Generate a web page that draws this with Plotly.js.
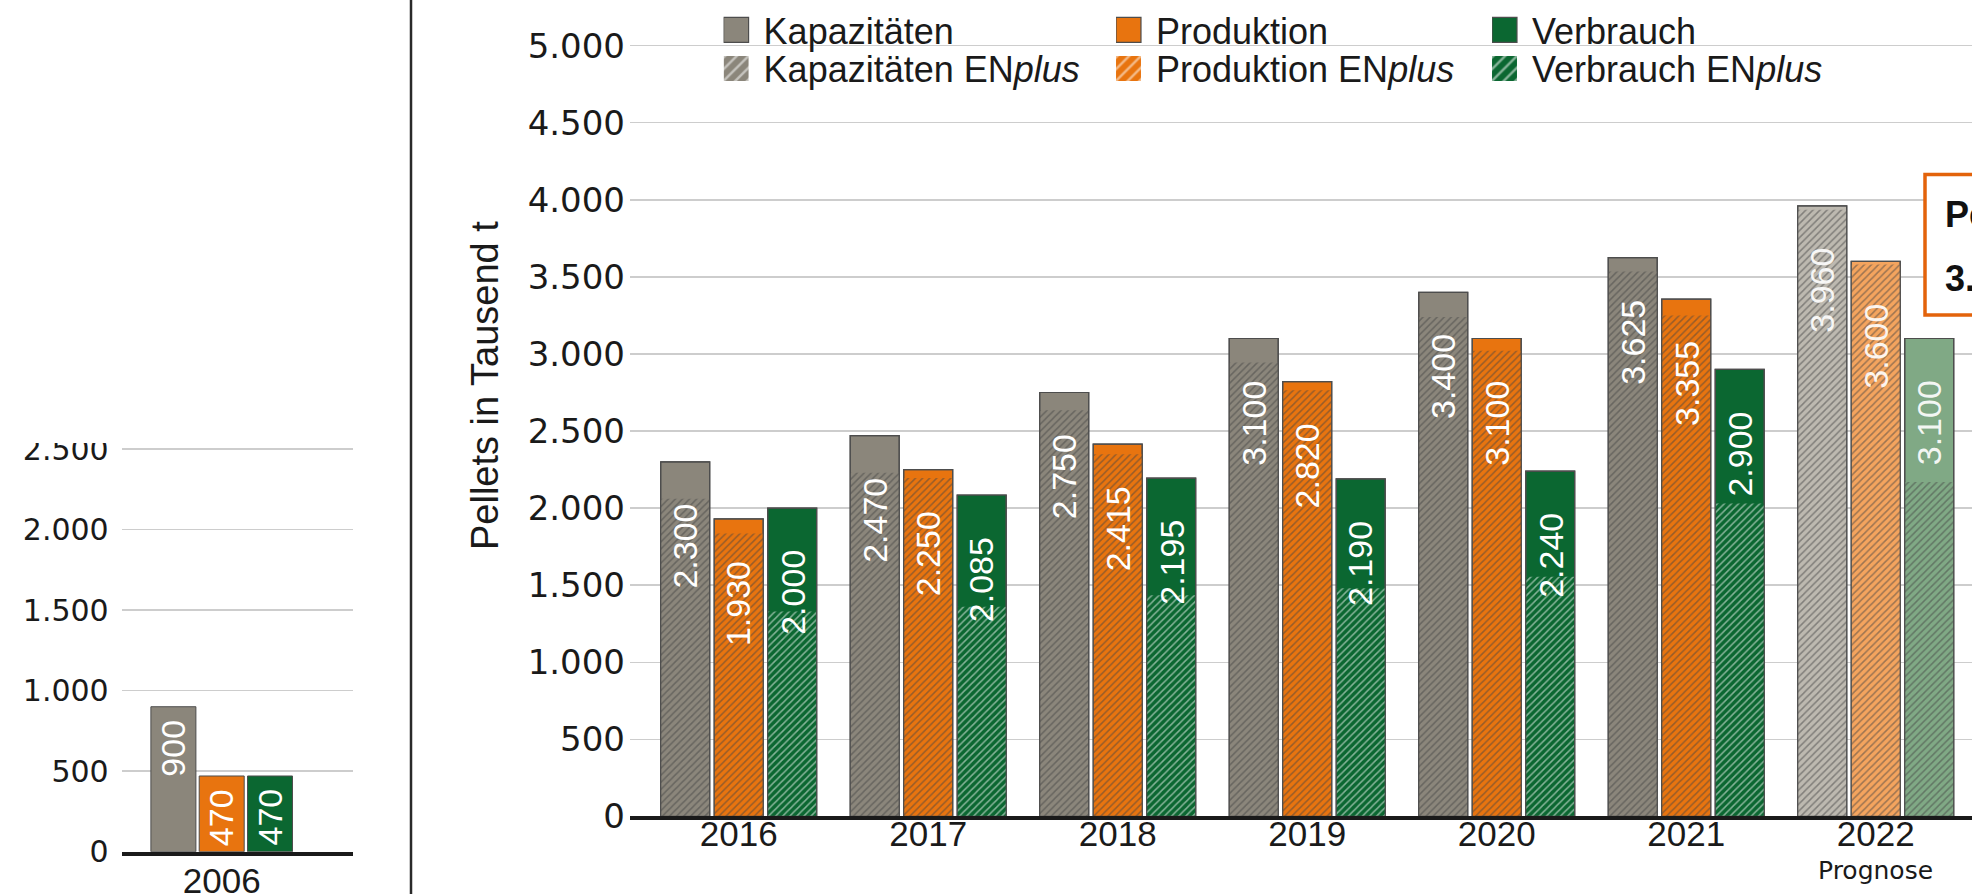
<!DOCTYPE html>
<html><head><meta charset="utf-8">
<script src="https://cdn.plot.ly/plotly-3.0.1.min.js"></script>
<style>html,body{margin:0;padding:0;background:#fff;overflow:hidden}#chart{width:1972px;height:894px}</style>
</head><body><div id="chart"></div>
<script>
// ---------------- DATA ----------------
const categories = ['2016', '2017', '2018', '2019', '2020', '2021', '2022'];
const prognose = [false, false, false, false, false, false, true];
const kapazitaeten = [2300, 2470, 2750, 3100, 3400, 3625, 3960];
const kapazitaetenENplus = [2060, 2230, 2635, 2945, 3240, 3535, 3935];
const produktion = [1930, 2250, 2415, 2820, 3100, 3355, 3600];
const produktionENplus = [1835, 2195, 2350, 2765, 3020, 3250, 3580];
const verbrauch = [2000, 2085, 2195, 2190, 2240, 2900, 3100];
const verbrauchENplus = [1330, 1360, 1435, 1480, 1555, 2030, 2170];

const categories2006 = ['2006'];
const kapazitaeten2006 = [900];
const produktion2006 = [470];
const verbrauch2006 = [470];

const yTitle = 'Pellets in Tausend t';
const prognoseLabel = 'Prognose';
const boxLines = ['Pe', '3.'];

// ---------------- STYLE / LAYOUT HELPERS ----------------
const W = 1972, H = 894;
const fx = p => p / W;
const fy = p => 1 - p / H;
const SANS = "'Liberation Sans', Arial, sans-serif";
const DEJAVU = "'DejaVu Sans', sans-serif";
const OUTLINE = '#4d4d4d';

const MAIN_SLOT = 0.2823, MAIN_W = 0.2586;
const LEFT_SLOT = 0.2091, LEFT_W = 0.1948;

const fmt = v => String(v).replace(/\B(?=(\d{3})+(?!\d))/g, '.');

const series = [
  {name: 'Kapazitäten', total: kapazitaeten, en: kapazitaetenENplus, v2006: kapazitaeten2006, base: '#8b867b', light: '#bdb9b0', k: -1, lg: ['legend', 'legend4'], lx: 723.6},
  {name: 'Produktion', total: produktion, en: produktionENplus, v2006: produktion2006, base: '#e8740f', light: '#f4a45e', k: 0, lg: ['legend2', 'legend5'], lx: 1116},
  {name: 'Verbrauch', total: verbrauch, en: verbrauchENplus, v2006: verbrauch2006, base: '#0b6731', light: '#80a985', k: 1, lg: ['legend3', 'legend6'], lx: 1492}
];

const traces = [];
series.forEach(s => {
  const colors = prognose.map(p => p ? s.light : s.base);
  // total (solid)
  traces.push({
    type: 'bar', x: categories, y: s.total, name: s.name, legend: s.lg[0],
    xaxis: 'x', yaxis: 'y',
    offset: s.k * MAIN_SLOT - MAIN_W / 2, width: MAIN_W,
    marker: {color: colors, line: {color: OUTLINE, width: 1.2}},
    hoverinfo: 'skip'
  });
  // ENplus part (hatched)
  traces.push({
    type: 'bar', x: categories, y: s.en, name: s.name + ' EN<i>plus</i>', legend: s.lg[1],
    xaxis: 'x', yaxis: 'y',
    offset: s.k * MAIN_SLOT - MAIN_W / 2, width: MAIN_W,
    marker: {
      color: colors,
      line: {color: OUTLINE, width: 0},
      pattern: {shape: '/', fillmode: 'overlay', bgcolor: colors, fgcolor: '#ffffff', fgopacity: 0.5, size: 5, solidity: 0.3}
    },
    hoverinfo: 'skip'
  });
});
// outlines on top
series.forEach(s => {
  traces.push({
    type: 'bar', x: categories, y: s.total, showlegend: false,
    xaxis: 'x', yaxis: 'y',
    offset: s.k * MAIN_SLOT - MAIN_W / 2, width: MAIN_W,
    marker: {color: 'rgba(0,0,0,0)', line: {color: OUTLINE, width: 1.2}},
    hoverinfo: 'skip'
  });
});
// 2006 panel
series.forEach(s => {
  traces.push({
    type: 'bar', x: categories2006, y: s.v2006, showlegend: false,
    xaxis: 'x2', yaxis: 'y2',
    offset: s.k * LEFT_SLOT - LEFT_W / 2, width: LEFT_W,
    marker: {color: s.base, line: {color: OUTLINE, width: 1}},
    hoverinfo: 'skip'
  });
});

// value labels
const annotations = [];
series.forEach(s => {
  s.total.forEach((v, i) => {
    annotations.push({
      xref: 'x', yref: 'y', x: i + s.k * MAIN_SLOT, y: v,
      text: fmt(v), textangle: -90, showarrow: false,
      xanchor: 'center', yanchor: 'top', yshift: -40,
      font: {family: SANS, size: 34, color: prognose[i] ? 'rgba(255,255,255,0.92)' : '#ffffff'}
    });
  });
  s.v2006.forEach((v, i) => {
    annotations.push({
      xref: 'x2', yref: 'y2', x: i + s.k * LEFT_SLOT, y: v,
      text: fmt(v), textangle: -90, showarrow: false,
      xanchor: 'center', yanchor: 'top', yshift: -11,
      font: {family: SANS, size: 34, color: '#ffffff'}
    });
  });
});
annotations.push({
  xref: 'paper', yref: 'paper', x: fx(485), y: fy(386), textangle: -90,
  text: yTitle, showarrow: false, xanchor: 'center', yanchor: 'middle',
  font: {family: SANS, size: 38, color: '#1a1a1a'}
});
annotations.push({
  xref: 'x', yref: 'paper', x: categories.length - 1, y: fy(870),
  text: prognoseLabel, showarrow: false, xanchor: 'center', yanchor: 'middle',
  font: {family: DEJAVU, size: 25, color: '#1a1a1a'}
});
annotations.push({
  xref: 'paper', yref: 'paper', x: fx(1943), y: fy(214), xanchor: 'left', yanchor: 'middle',
  text: '<b>' + boxLines[0] + '</b>', showarrow: false,
  font: {family: SANS, size: 36, color: '#111111'}
});
annotations.push({
  xref: 'paper', yref: 'paper', x: fx(1943), y: fy(278), xanchor: 'left', yanchor: 'middle',
  text: '<b>' + boxLines[1] + '</b>', showarrow: false,
  font: {family: SANS, size: 36, color: '#111111'}
});

const shapes = [
  {type: 'rect', xref: 'paper', yref: 'paper', x0: 0, x1: fx(405), y0: fy(443), y1: 1,
   fillcolor: '#ffffff', line: {width: 0}, layer: 'above'},
  {type: 'line', xref: 'paper', yref: 'paper', x0: fx(411), x1: fx(411), y0: 0, y1: 1,
   line: {color: '#2a2a2a', width: 2.5}, layer: 'above'},
  {type: 'rect', xref: 'paper', yref: 'paper', x0: fx(1925), x1: 1.05, y0: fy(315), y1: fy(174.5),
   fillcolor: '#ffffff', line: {color: '#e3630b', width: 3.5}, layer: 'above'}
];

const legendBase = {
  orientation: 'v', xanchor: 'left', yanchor: 'top',
  font: {family: SANS, size: 36, color: '#1a1a1a'},
  bgcolor: 'rgba(0,0,0,0)', borderwidth: 0, traceorder: 'normal', valign: 'middle', tracegroupgap: 0
};

const layout = {
  width: W, height: H,
  margin: {l: 0, r: 0, t: 0, b: 0, pad: 0},
  paper_bgcolor: '#ffffff', plot_bgcolor: 'rgba(0,0,0,0)',
  barmode: 'overlay', separators: ',.', hovermode: false,
  font: {family: DEJAVU, color: '#1a1a1a'},
  showlegend: true,
  xaxis: {
    domain: [fx(630), 1], anchor: 'y', type: 'category', range: [-0.5736, 6.508],
    showgrid: false, zeroline: false, showline: true, linecolor: '#1a1a1a', linewidth: 4,
    ticks: '', tickfont: {family: SANS, size: 35, color: '#1a1a1a'}, ticklabelstandoff: -16, fixedrange: true
  },
  yaxis: {
    domain: [fy(816.4), 1], anchor: 'x', range: [0, 5296], dtick: 500, tick0: 0, tickformat: ',d',
    showgrid: true, gridcolor: '#cdcdcd', gridwidth: 1.5, zeroline: false, showline: false,
    ticks: '', tickfont: {family: DEJAVU, size: 34, color: '#1a1a1a'}, ticklabelstandoff: 4, fixedrange: true
  },
  xaxis2: {
    domain: [fx(121.7), fx(352.7)], anchor: 'y2', type: 'category', range: [-0.4329, 0.5671],
    showgrid: false, zeroline: false, showline: true, linecolor: '#1a1a1a', linewidth: 4,
    ticks: '', tickfont: {family: SANS, size: 35, color: '#1a1a1a'}, ticklabelstandoff: -5, fixedrange: true
  },
  yaxis2: {
    domain: [fy(851.7), fy(441)], anchor: 'x2', range: [0, 2549.7], dtick: 500, tick0: 0, tickformat: ',d',
    showgrid: true, gridcolor: '#cdcdcd', gridwidth: 1.5, zeroline: false, showline: false,
    ticks: '', tickfont: {family: DEJAVU, size: 30, color: '#1a1a1a'}, ticklabelstandoff: 12, fixedrange: true
  },
  shapes: shapes,
  annotations: annotations
};
// one single-entry legend per legend cell (3 columns x 2 rows)
series.forEach(s => {
  layout[s.lg[0]] = Object.assign({}, legendBase, {x: fx(s.lx), y: 1});
  layout[s.lg[1]] = Object.assign({}, legendBase, {x: fx(s.lx), y: fy(38.5)});
});

Plotly.newPlot('chart', traces, layout, {displayModeBar: false, staticPlot: true}).then(function () {
  // enlarge the legend swatches to match the reference
  document.querySelectorAll('g.traces').forEach(function (g) {
    var txt = g.querySelector('text.legendtext');
    var tx = txt ? parseFloat(txt.getAttribute('x')) || 40 : 40;
    g.querySelectorAll('.legendpoints path').forEach(function (p) {
      p.setAttribute('transform', 'translate(' + (tx - 15 - 12.5) + ',0) scale(2.08)');
      p.style.vectorEffect = 'non-scaling-stroke';
    });
  });
});
</script>
</body></html>
